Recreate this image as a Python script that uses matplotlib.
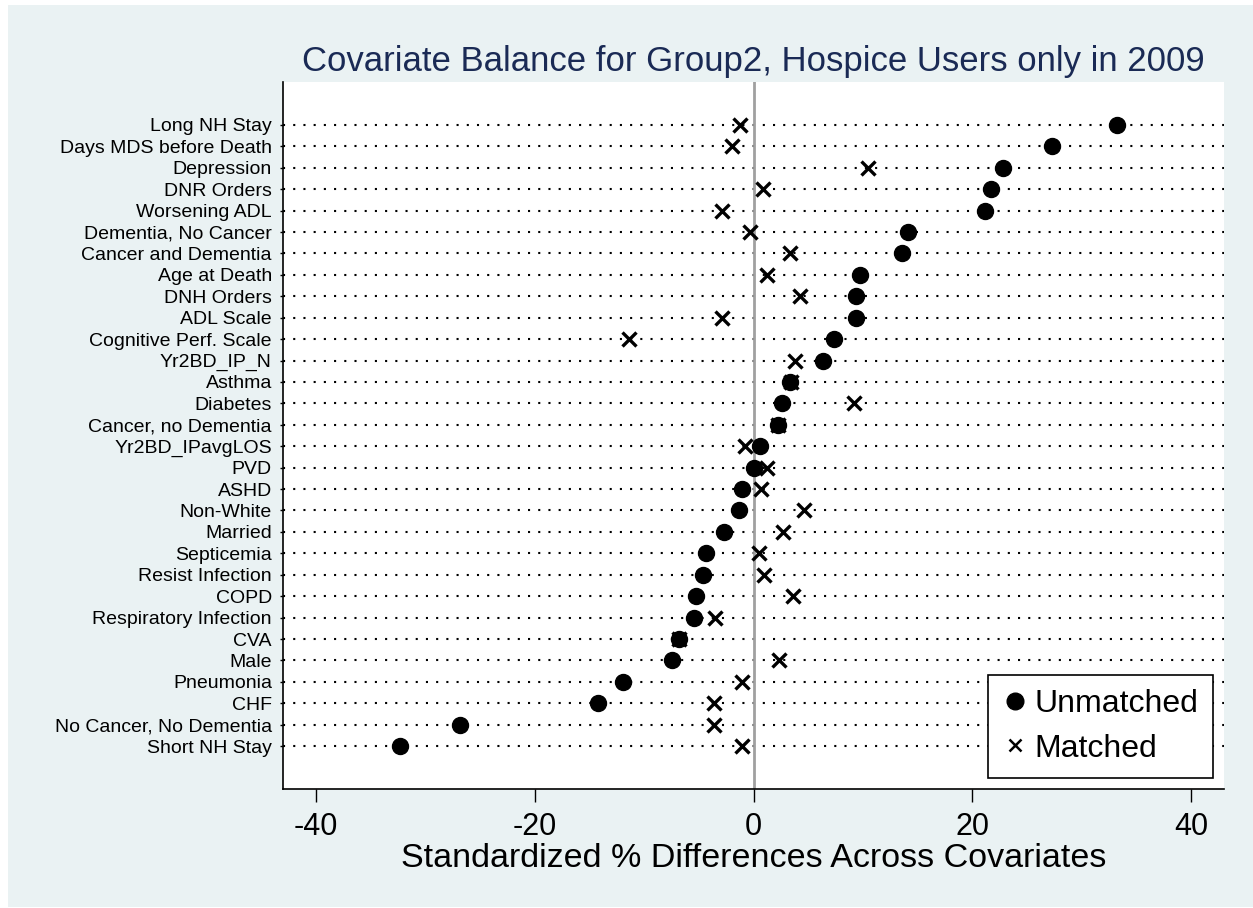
import matplotlib
matplotlib.use('Agg')
import matplotlib.pyplot as plt
from matplotlib.patches import Rectangle
from matplotlib.lines import Line2D

covariates = ['Long NH Stay', 'Days MDS before Death', 'Depression', 'DNR Orders',
              'Worsening ADL', 'Dementia, No Cancer', 'Cancer and Dementia',
              'Age at Death', 'DNH Orders', 'ADL Scale', 'Cognitive Perf. Scale',
              'Yr2BD_IP_N', 'Asthma', 'Diabetes', 'Cancer, no Dementia',
              'Yr2BD_IPavgLOS', 'PVD', 'ASHD', 'Non-White', 'Married', 'Septicemia',
              'Resist Infection', 'COPD', 'Respiratory Infection', 'CVA', 'Male',
              'Pneumonia', 'CHF', 'No Cancer, No Dementia', 'Short NH Stay']
unmatched = [33.2, 27.3, 22.8, 21.7, 21.2, 14.1, 13.6, 9.7, 9.4, 9.4, 7.35,
             6.35, 3.36, 2.64, 2.25, 0.58, 0.03, -1.08, -1.36, -2.7, -4.3,
             -4.63, -5.3, -5.4, -6.85, -7.46, -11.9, -14.2, -26.8, -32.3]
matched = [-1.25, -1.97, 10.5, 0.86, -2.85, -0.3, 3.3, 1.25, 4.25, -2.85, -11.4,
           3.8, 3.4, 9.2, 2.2, -0.75, 1.2, 0.7, 4.6, 2.7, 0.53,
           0.92, 3.6, -3.5, -6.8, 2.3, -1.03, -3.6, -3.6, -1.03]
xticks = [-40, -20, 0, 20, 40]

plt.rcParams['font.family'] = ['Liberation Sans', 'DejaVu Sans']

fig = plt.figure(figsize=(12.53, 9.08), dpi=100, facecolor='white')
fig.add_artist(Rectangle((8/1253, 1/908), 1245/1253, 902/908,
                         transform=fig.transFigure, facecolor='#eaf2f3',
                         edgecolor='none', zorder=0))
ax = fig.add_axes([283/1253, 119/908, 941/1253, 707/908])
ax.set_facecolor('white')

n = len(covariates)
ypos = [n - i for i in range(n)]

# dotted guide line for every covariate
for y in ypos:
    ax.plot([-43, 43], [y, y], color='black', lw=1.5,
            linestyle=(0, (1, 3.9)), zorder=1)
ax.axvline(0, color='#a0a0a0', lw=2, zorder=2)

ax.plot(matched, ypos, 'x', color='black', ms=10, mew=2.4, zorder=3)
ax.plot(unmatched, ypos, 'o', color='black', ms=11.5, zorder=4)

ax.set_xlim(-43, 43)
ax.set_ylim(-1, 32)
ax.set_xticks(xticks)
ax.set_xticklabels([str(t) for t in xticks], fontsize=22)
ax.set_yticks(ypos)
ax.set_yticklabels(covariates, fontsize=14)
ax.tick_params(axis='x', length=9.5, width=1, pad=7)
ax.tick_params(axis='y', length=2, width=1, pad=6)

for s in ['top', 'right']:
    ax.spines[s].set_visible(False)
for s in ['left', 'bottom']:
    ax.spines[s].set_linewidth(1.2)

ax.set_xlabel('Standardized % Differences Across Covariates', fontsize=24.5, labelpad=1)
ax.set_title('Covariate Balance for Group2, Hospice Users only in 2009',
             fontsize=25, color='#1a2a55', pad=8)

handles = [Line2D([], [], marker='o', ls='none', color='black', ms=12),
           Line2D([], [], marker='x', ls='none', color='black', ms=9, mew=1.8)]
leg = ax.legend(handles, ['Unmatched', 'Matched'], loc='lower right',
                bbox_to_anchor=(0.988, 0.0156), borderaxespad=0, fontsize=23,
                frameon=True, fancybox=False, framealpha=1, edgecolor='black',
                handletextpad=0.2, borderpad=0.45, labelspacing=0.45,
                handlelength=0.8)
leg.get_frame().set_linewidth(1.2)
leg.set_zorder(10)

fig.savefig('out.png', dpi=100, facecolor=fig.get_facecolor())
